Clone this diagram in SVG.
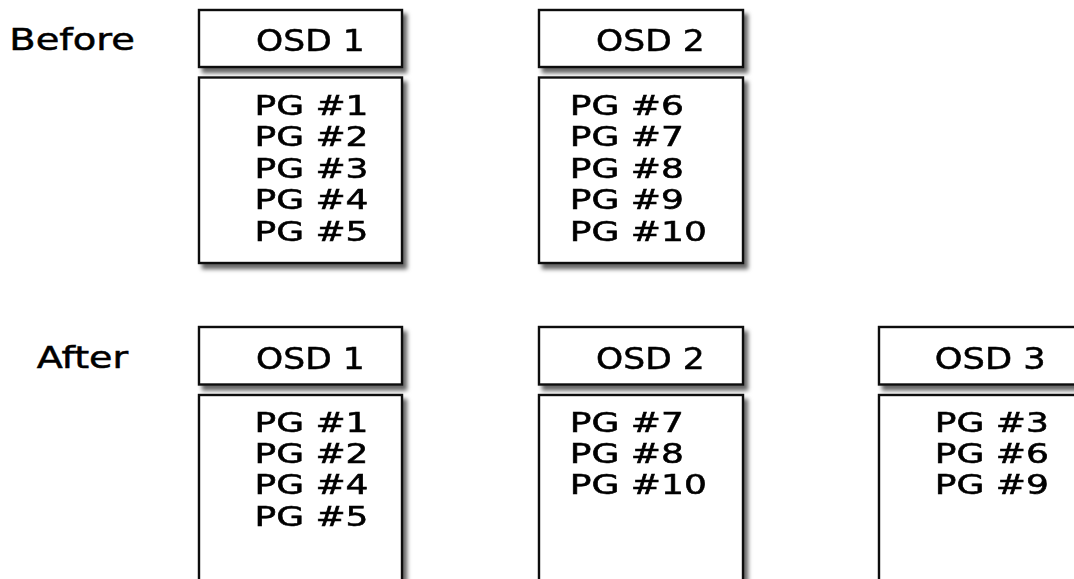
<svg xmlns="http://www.w3.org/2000/svg" width="1074" height="579" viewBox="0 0 1074 579">
<style>
.box{fill:#fff;stroke:#111;stroke-width:2.4}
.t{font-family:"DejaVu Sans",Verdana,sans-serif;font-size:30px;fill:#000;stroke:#000;stroke-width:0.5}
.pg{font-size:26.6px;stroke-width:0.55}
</style>
<defs>
<filter id="sh" x="-10%" y="-10%" width="130%" height="130%">
<feDropShadow dx="4" dy="5" stdDeviation="2.2" flood-color="#000" flood-opacity="0.6"/>
</filter>
</defs>
<rect width="1074" height="579" fill="#fff"/>
<g id="label-before"><text class="t" x="9.3" y="50" textLength="125.7" lengthAdjust="spacingAndGlyphs">Before</text></g>
<g id="label-after"><text class="t" x="36.7" y="367.5" textLength="91.5" lengthAdjust="spacingAndGlyphs">After</text></g>

<g id="before-osd1" filter="url(#sh)">
<rect class="box" x="199" y="10" width="203" height="57"/>
<text class="t" x="256.1" y="51" textLength="108.5" lengthAdjust="spacingAndGlyphs">OSD 1</text>
</g>
<g id="before-osd1-pgs" filter="url(#sh)">
<rect class="box" x="199" y="77.5" width="203" height="185.5"/>
<text class="t pg"><tspan x="254.5" y="115" textLength="114" lengthAdjust="spacingAndGlyphs">PG #1</tspan><tspan x="254.5" y="146.4" textLength="114" lengthAdjust="spacingAndGlyphs">PG #2</tspan><tspan x="254.5" y="177.8" textLength="114" lengthAdjust="spacingAndGlyphs">PG #3</tspan><tspan x="254.5" y="209.2" textLength="114" lengthAdjust="spacingAndGlyphs">PG #4</tspan><tspan x="254.5" y="240.6" textLength="114" lengthAdjust="spacingAndGlyphs">PG #5</tspan></text>
</g>

<g id="before-osd2" filter="url(#sh)">
<rect class="box" x="539" y="10" width="204" height="57"/>
<text class="t" x="596.1" y="51" textLength="108.5" lengthAdjust="spacingAndGlyphs">OSD 2</text>
</g>
<g id="before-osd2-pgs" filter="url(#sh)">
<rect class="box" x="539" y="77.5" width="204" height="185.5"/>
<text class="t pg"><tspan x="569.8" y="115" textLength="114" lengthAdjust="spacingAndGlyphs">PG #6</tspan><tspan x="569.8" y="146.4" textLength="114" lengthAdjust="spacingAndGlyphs">PG #7</tspan><tspan x="569.8" y="177.8" textLength="114" lengthAdjust="spacingAndGlyphs">PG #8</tspan><tspan x="569.8" y="209.2" textLength="114" lengthAdjust="spacingAndGlyphs">PG #9</tspan><tspan x="569.8" y="240.6" textLength="137" lengthAdjust="spacingAndGlyphs">PG #10</tspan></text>
</g>

<g id="after-osd1" filter="url(#sh)">
<rect class="box" x="199" y="327" width="203" height="57.5"/>
<text class="t" x="256.1" y="368.5" textLength="108.5" lengthAdjust="spacingAndGlyphs">OSD 1</text>
</g>
<g id="after-osd1-pgs" filter="url(#sh)">
<rect class="box" x="199" y="395" width="203" height="200"/>
<text class="t pg"><tspan x="254.5" y="432" textLength="114" lengthAdjust="spacingAndGlyphs">PG #1</tspan><tspan x="254.5" y="463.2" textLength="114" lengthAdjust="spacingAndGlyphs">PG #2</tspan><tspan x="254.5" y="494.4" textLength="114" lengthAdjust="spacingAndGlyphs">PG #4</tspan><tspan x="254.5" y="525.6" textLength="114" lengthAdjust="spacingAndGlyphs">PG #5</tspan></text>
</g>

<g id="after-osd2" filter="url(#sh)">
<rect class="box" x="539" y="327" width="204" height="57.5"/>
<text class="t" x="596.1" y="368.5" textLength="108.5" lengthAdjust="spacingAndGlyphs">OSD 2</text>
</g>
<g id="after-osd2-pgs" filter="url(#sh)">
<rect class="box" x="539" y="395" width="204" height="200"/>
<text class="t pg"><tspan x="569.8" y="432" textLength="114" lengthAdjust="spacingAndGlyphs">PG #7</tspan><tspan x="569.8" y="463.2" textLength="114" lengthAdjust="spacingAndGlyphs">PG #8</tspan><tspan x="569.8" y="494.4" textLength="137" lengthAdjust="spacingAndGlyphs">PG #10</tspan></text>
</g>

<g id="after-osd3" filter="url(#sh)">
<rect class="box" x="879" y="327" width="204" height="57.5"/>
<text class="t" x="934.8" y="368.5" textLength="111" lengthAdjust="spacingAndGlyphs">OSD 3</text>
</g>
<g id="after-osd3-pgs" filter="url(#sh)">
<rect class="box" x="879" y="395" width="204" height="200"/>
<text class="t pg"><tspan x="934.8" y="432" textLength="114" lengthAdjust="spacingAndGlyphs">PG #3</tspan><tspan x="934.8" y="463.2" textLength="114" lengthAdjust="spacingAndGlyphs">PG #6</tspan><tspan x="934.8" y="494.4" textLength="114" lengthAdjust="spacingAndGlyphs">PG #9</tspan></text>
</g>

<g id="connectors"></g>
</svg>
